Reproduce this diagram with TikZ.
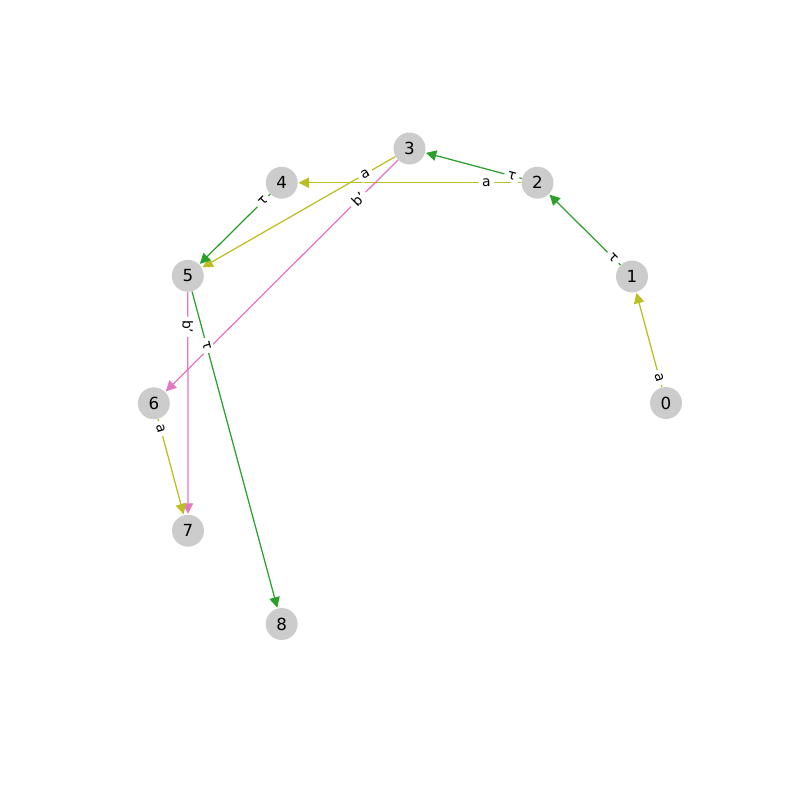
\documentclass[tikz,border=0pt]{standalone}
\usepackage{fontspec}
\setmainfont{DejaVu Sans}
\usetikzlibrary{arrows.meta}
\definecolor{ecolive}{HTML}{BCBD22}
\definecolor{ecgreen}{HTML}{2CA02C}
\definecolor{ecpink}{HTML}{E377C2}
\definecolor{nodegray}{HTML}{CCCCCC}
\tikzset{
  vtx/.style={circle, fill=nodegray, minimum size=23pt, inner sep=0pt, font=\fontsize{12}{14}\selectfont},
  edg/.style={-{Triangle[length=7.5pt,width=7.5pt]}, line width=0.9pt, shorten >=0.5pt},
  elab/.style={fill=white, sloped, pos=0.2, inner xsep=2.5pt, inner ysep=2pt, rounded corners=2pt, font=\fontsize{10}{12}\selectfont, text=black},
}
\begin{document}
\begin{tikzpicture}[x=0.72pt,y=-0.72pt]
\useasboundingbox (0,0) rectangle (800,800);
\node[vtx] (n0) at (666,403) {0};
\node[vtx] (n1) at (632,276.5) {1};
\node[vtx] (n2) at (537.5,182.7) {2};
\node[vtx] (n3) at (409.5,148.5) {3};
\node[vtx] (n4) at (281.7,182.7) {4};
\node[vtx] (n5) at (187.8,275.8) {5};
\node[vtx] (n6) at (153.8,403.3) {6};
\node[vtx] (n7) at (188,530.7) {7};
\node[vtx] (n8) at (281.7,624) {8};
% edges
\draw[edg, ecolive] (n0) -- (n1);
\draw[edg, ecgreen] (n1) -- (n2);
\draw[edg, ecgreen] (n2) -- (n3);
\draw[edg, ecolive] (n2) -- (n4);
\draw[edg, ecolive] (n3) -- (n5);
\draw[edg, ecgreen] (n4) -- (n5);
\draw[edg, ecpink] (n3) -- (n6);
\draw[edg, ecpink] (n5) -- (n7);
\draw[edg, ecgreen] (n5) -- (n8);
\draw[edg, ecolive] (n6) -- (n7);
% labels
\path (n0.center) -- (n1.center) node[elab] {a};
\path (n1.center) -- (n2.center) node[elab] {τ};
\path (n2.center) -- (n3.center) node[elab] {τ};
\path (n2.center) -- (n4.center) node[elab] {a};
\path (n3.center) -- (n5.center) node[elab] {a};
\path (n4.center) -- (n5.center) node[elab] {τ};
\path (n3.center) -- (n6.center) node[elab] {b'};
\path (n5.center) -- (n7.center) node[elab] {b'};
\path (n5.center) -- (n8.center) node[elab] {τ};
\path (n6.center) -- (n7.center) node[elab] {a};
\end{tikzpicture}
\end{document}
